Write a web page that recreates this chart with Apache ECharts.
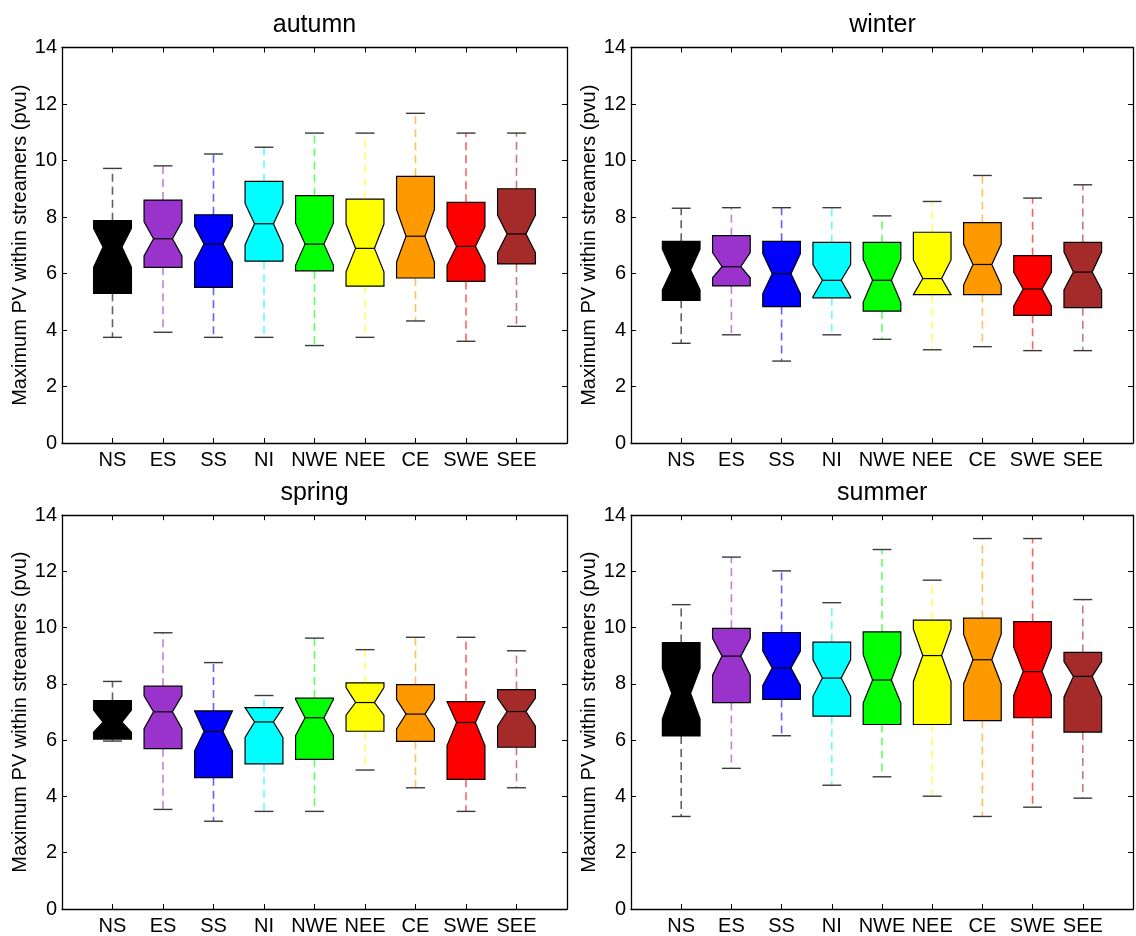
<!DOCTYPE html>
<html>
<head>
<meta charset="utf-8">
<title>Maximum PV within streamers by season</title>
<script src="https://cdn.jsdelivr.net/npm/echarts@6/dist/echarts.min.js"></script>
<style>
  html, body { margin: 0; padding: 0; background: #fff; }
  #chart { width: 1136px; height: 936px; }
</style>
</head>
<body>
<div id="chart"></div>
<script>
// Streamer regions and their box colours
const categories = ['NS', 'ES', 'SS', 'NI', 'NWE', 'NEE', 'CE', 'SWE', 'SEE'];
const boxColors = ['#000000', '#9933CC', '#0000FF', '#00FFFF', '#00FF00', '#FFFF00', '#FF9900', '#FF0000', '#A52A2A'];
const yTicks = [0, 2, 4, 6, 8, 10, 12, 14];

// autumn (pvu): whisker ends, quartiles, median, notch limits
const autumnLow     = [3.74, 3.92, 3.74, 3.74, 3.45, 3.74, 4.32, 3.60, 4.13];
const autumnQ1      = [5.30, 6.22, 5.51, 6.44, 6.09, 5.55, 5.84, 5.72, 6.34];
const autumnNotchLo = [6.22, 6.62, 6.40, 7.01, 6.29, 6.06, 6.40, 6.29, 6.74];
const autumnMedian  = [6.94, 7.23, 7.04, 7.76, 7.04, 6.89, 7.32, 6.96, 7.40];
const autumnNotchHi = [7.60, 7.83, 7.68, 8.48, 7.78, 7.75, 8.26, 7.65, 8.07];
const autumnQ3      = [7.87, 8.60, 8.08, 9.26, 8.76, 8.63, 9.44, 8.52, 9.00];
const autumnHigh    = [9.72, 9.81, 10.23, 10.47, 10.97, 10.97, 11.67, 10.97, 10.97];

// winter
const winterLow     = [3.53, 3.83, 2.90, 3.83, 3.67, 3.30, 3.41, 3.27, 3.27];
const winterQ1      = [5.05, 5.56, 4.83, 5.14, 4.67, 5.25, 5.25, 4.52, 4.79];
const winterNotchLo = [5.42, 5.85, 5.29, 5.18, 4.98, 5.25, 5.59, 4.85, 5.42];
const winterMedian  = [6.12, 6.24, 5.99, 5.76, 5.76, 5.82, 6.32, 5.45, 6.05];
const winterNotchHi = [6.86, 6.74, 6.70, 6.32, 6.50, 6.48, 7.04, 6.04, 6.77];
const winterQ3      = [7.14, 7.34, 7.14, 7.10, 7.10, 7.46, 7.80, 6.63, 7.10];
const winterHigh    = [8.31, 8.33, 8.33, 8.33, 8.04, 8.55, 9.47, 8.67, 9.14];

// spring
const springLow     = [5.97, 3.54, 3.12, 3.47, 3.47, 4.94, 4.31, 3.47, 4.31];
const springQ1      = [6.04, 5.70, 4.67, 5.16, 5.32, 6.32, 5.96, 4.61, 5.75];
const springNotchLo = [6.28, 6.41, 5.62, 6.10, 6.16, 6.89, 6.40, 5.81, 6.50];
const springMedian  = [6.64, 7.01, 6.31, 6.65, 6.80, 7.34, 6.93, 6.63, 7.02];
const springNotchHi = [7.07, 7.58, 7.04, 7.16, 7.45, 7.87, 7.45, 7.37, 7.50];
const springQ3      = [7.41, 7.92, 7.04, 7.16, 7.50, 8.04, 7.98, 7.37, 7.80];
const springHigh    = [8.09, 9.82, 8.76, 7.59, 9.63, 9.22, 9.66, 9.66, 9.18];

// summer
const summerLow     = [3.29, 5.00, 6.16, 4.40, 4.70, 4.01, 3.29, 3.62, 3.94];
const summerQ1      = [6.15, 7.34, 7.45, 6.86, 6.56, 6.56, 6.70, 6.80, 6.29];
const summerNotchLo = [6.76, 8.31, 7.95, 7.56, 7.32, 8.09, 8.00, 7.60, 7.53];
const summerMedian  = [7.67, 8.99, 8.57, 8.21, 8.14, 9.01, 8.86, 8.44, 8.27];
const summerNotchHi = [8.55, 9.62, 9.17, 8.86, 9.04, 9.95, 9.77, 9.30, 8.80];
const summerQ3      = [9.47, 9.98, 9.83, 9.49, 9.85, 10.27, 10.34, 10.22, 9.12];
const summerHigh    = [10.82, 12.51, 12.02, 10.89, 12.78, 11.69, 13.17, 13.17, 11.00];

const panels = [
  { title: 'autumn', stats: [autumnLow, autumnQ1, autumnNotchLo, autumnMedian, autumnNotchHi, autumnQ3, autumnHigh] },
  { title: 'winter', stats: [winterLow, winterQ1, winterNotchLo, winterMedian, winterNotchHi, winterQ3, winterHigh] },
  { title: 'spring', stats: [springLow, springQ1, springNotchLo, springMedian, springNotchHi, springQ3, springHigh] },
  { title: 'summer', stats: [summerLow, summerQ1, summerNotchLo, summerMedian, summerNotchHi, summerQ3, summerHigh] }
];

const FONT = "'Liberation Sans', Arial, Helvetica, sans-serif";
const grids = [
  { left: 62,  top: 47.5,  width: 505,   height: 395.5 },
  { left: 631, top: 47.5,  width: 503,   height: 395.5 },
  { left: 62,  top: 515.2, width: 505,   height: 395.5 },
  { left: 631, top: 515.2, width: 502.5, height: 395.5 }
];

const HALF = 0.375;   // half box width in x units
const PINCH = 0.5;    // notch waist relative to box width
const CAP = 0.1875;   // half whisker-cap width

function renderBox(params, api) {
  const x = api.value(0);
  const lo = api.value(1), q1 = api.value(2), nLo = api.value(3), med = api.value(4),
        nHi = api.value(5), q3 = api.value(6), hi = api.value(7);
  const color = boxColors[params.dataIndex];
  const P = (xx, yy) => api.coord([xx, yy]);
  const w = HALF, m = HALF * PINCH;
  const outline = [
    P(x - w, q1), P(x + w, q1), P(x + w, nLo), P(x + m, med), P(x + w, nHi),
    P(x + w, q3), P(x - w, q3), P(x - w, nHi), P(x - m, med), P(x - w, nLo)
  ];
  const seg = (a, b) => ({ x1: a[0], y1: a[1], x2: b[0], y2: b[1] });
  const whiskerStyle = { stroke: color, lineWidth: 1.6, lineDash: [8, 5], opacity: 0.62 };
  const capStyle = { stroke: '#3a3a3a', lineWidth: 1.4 };
  return {
    type: 'group',
    children: [
      { type: 'line', shape: seg(P(x, q3), P(x, hi)), style: whiskerStyle },
      { type: 'line', shape: seg(P(x, q1), P(x, lo)), style: whiskerStyle },
      { type: 'line', shape: seg(P(x - CAP, hi), P(x + CAP, hi)), style: capStyle },
      { type: 'line', shape: seg(P(x - CAP, lo), P(x + CAP, lo)), style: capStyle },
      { type: 'polygon', shape: { points: outline }, style: { fill: color, stroke: '#000', lineWidth: 1.2 } },
      { type: 'line', shape: seg(P(x - m, med), P(x + m, med)), style: { stroke: '#000', lineWidth: 1.2 } }
    ]
  };
}

const xAxes = [], yAxes = [], series = [], graphics = [];
const lineStyle = { color: '#000', width: 1.3 };

grids.forEach((g, i) => {
  const base = { type: 'value', gridIndex: i, splitLine: { show: false } };
  xAxes.push(Object.assign({}, base, {
    position: 'bottom', min: 0, max: 10, interval: 1,
    axisLine: { show: true, onZero: false, lineStyle },
    axisTick: { show: true, inside: true, length: 5, lineStyle: { color: '#000' } },
    axisLabel: {
      formatter: v => categories[v - 1] || '',
      color: '#000', fontSize: 20, fontFamily: FONT, margin: 7
    }
  }));
  xAxes.push(Object.assign({}, base, {
    position: 'top', min: 0, max: 10, interval: 1,
    axisLine: { show: true, onZero: false, lineStyle },
    axisTick: { show: true, inside: true, length: 5, lineStyle: { color: '#000' } },
    axisLabel: { show: false }
  }));
  yAxes.push(Object.assign({}, base, {
    position: 'left', min: 0, max: 14, interval: 2,
    axisLine: { show: true, onZero: false, lineStyle },
    axisTick: { show: true, inside: true, length: 5, lineStyle: { color: '#000' } },
    axisLabel: {
      formatter: v => (yTicks.indexOf(v) >= 0 ? String(v) : ''),
      color: '#000', fontSize: 20, fontFamily: FONT, margin: 5
    },
    name: 'Maximum PV within streamers (pvu)',
    nameLocation: 'middle', nameGap: 32,
    nameTextStyle: { color: '#000', fontSize: 20, fontFamily: FONT }
  }));
  yAxes.push(Object.assign({}, base, {
    position: 'right', min: 0, max: 14, interval: 2,
    axisLine: { show: true, onZero: false, lineStyle },
    axisTick: { show: true, inside: true, length: 5, lineStyle: { color: '#000' } },
    axisLabel: { show: false }
  }));

  const s = panels[i].stats;
  series.push({
    type: 'custom',
    xAxisIndex: 2 * i,
    yAxisIndex: 2 * i,
    renderItem: renderBox,
    encode: { x: 0, y: [1, 2, 3, 4, 5, 6, 7] },
    data: categories.map((c, k) => [k + 1, s[0][k], s[1][k], s[2][k], s[3][k], s[4][k], s[5][k], s[6][k]]),
    clip: false,
    silent: true
  });

  graphics.push({
    type: 'text',
    x: g.left + g.width / 2,
    y: g.top - 22.5,
    style: {
      text: panels[i].title,
      font: '25px ' + FONT,
      fill: '#000',
      align: 'center', textAlign: 'center',
      verticalAlign: 'middle', textVerticalAlign: 'middle'
    }
  });
});

const chart = echarts.init(document.getElementById('chart'), null, { renderer: 'canvas' });
chart.setOption({
  animation: false,
  backgroundColor: '#fff',
  grid: grids,
  xAxis: xAxes,
  yAxis: yAxes,
  series: series,
  graphic: graphics
});
</script>
</body>
</html>
